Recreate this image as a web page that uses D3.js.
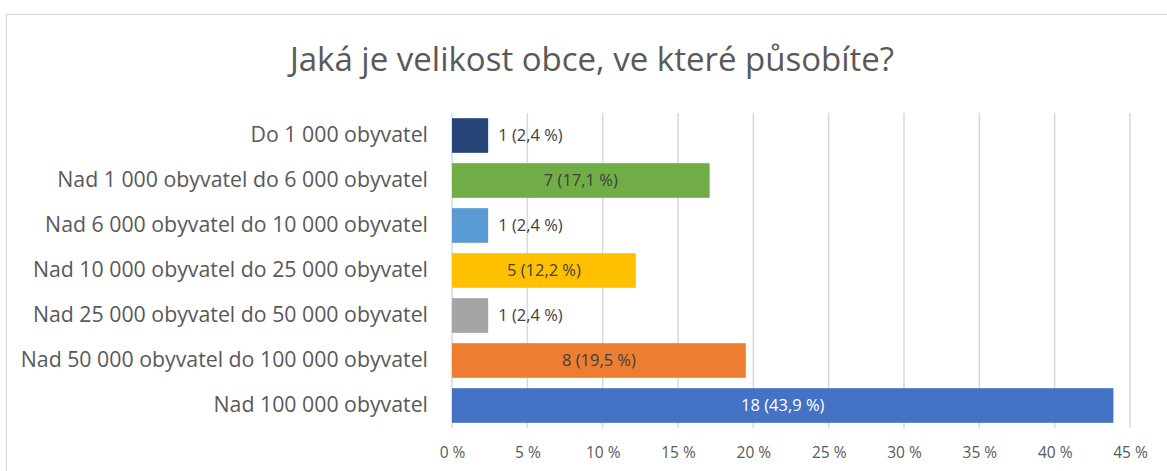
<!DOCTYPE html>
<html lang="cs">
<head>
<meta charset="utf-8">
<script src="https://d3js.org/d3.v7.min.js"></script>
<style>
  body { margin: 0; background: #fff; }
  svg text { font-family: "Open Sans", sans-serif; }
</style>
</head>
<body>
<div id="chart"></div>
<script>
"use strict"
// data
var kategorie = [
  "Do 1 000 obyvatel",
  "Nad 1 000 obyvatel do 6 000 obyvatel",
  "Nad 6 000 obyvatel do 10 000 obyvatel",
  "Nad 10 000 obyvatel do 25 000 obyvatel",
  "Nad 25 000 obyvatel do 50 000 obyvatel",
  "Nad 50 000 obyvatel do 100 000 obyvatel",
  "Nad 100 000 obyvatel"
];
var pocty = [1, 7, 1, 5, 1, 8, 18];
var procenta = [2.4, 17.1, 2.4, 12.2, 2.4, 19.5, 43.9];
var barvy = ["#264478", "#70AD47", "#5B9BD5", "#FFC000", "#A5A5A5", "#ED7D31", "#4472C4"];
var osaTicky = [0, 5, 10, 15, 20, 25, 30, 35, 40, 45];
var titulek = "Jaká je velikost obce, ve které působíte?";

var sirka = 1167, vyska = 471;
var margin = {top: 113, right: 37, bottom: 43, left: 452};
var w = sirka - margin.left - margin.right,
    h = vyska - margin.top - margin.bottom;

var svg = d3.select("#chart").append("svg")
  .attr("width", sirka).attr("height", vyska);

// ramecek
svg.append("rect")
  .attr("x", 6.5).attr("y", 14.5)
  .attr("width", sirka + 20).attr("height", vyska + 20)
  .attr("fill", "none").attr("stroke", "#d9d9d9").attr("stroke-width", 1.2);

svg.append("text")
  .attr("x", 592).attr("y", 71)
  .attr("text-anchor", "middle")
  .attr("fill", "#595959")
  .style("font-size", "33px")
  .text(titulek);

var g = svg.append("g").attr("transform", "translate(" + margin.left + "," + margin.top + ")");

var x = d3.scaleLinear().domain([0, 45]).range([0, w]);
var y = d3.scaleBand().domain(kategorie).range([0, h]).paddingInner(0.23).paddingOuter(0.115);

// mrizka
g.selectAll("line.grid")
  .data(osaTicky)
  .enter().append("line")
  .attr("class", "grid")
  .attr("x1", d => x(d)).attr("x2", d => x(d))
  .attr("y1", 0).attr("y2", h)
  .attr("stroke", "#d9d9d9").attr("stroke-width", 1.5);

// osa x
var osaX = g.append("g")
  .attr("transform", "translate(0," + h + ")")
  .call(d3.axisBottom(x).tickValues(osaTicky).tickSize(0).tickPadding(19).tickFormat(d => d + " %"));
osaX.select(".domain").remove();
osaX.selectAll("text").attr("fill", "#595959").style("font-size", "15.5px");

// osa y
var osaY = g.append("g")
  .call(d3.axisLeft(y).tickSize(0).tickPadding(24));
osaY.select(".domain").remove();
osaY.selectAll("text").attr("fill", "#595959").style("font-size", "21.3px");

// sloupce
var data = kategorie.map((k, i) => ({k: k, n: pocty[i], p: procenta[i], c: barvy[i]}));
g.selectAll("rect.bar")
  .data(data)
  .enter().append("rect")
  .attr("class", "bar")
  .attr("x", 0)
  .attr("y", d => y(d.k))
  .attr("width", d => x(d.p))
  .attr("height", y.bandwidth())
  .attr("fill", d => d.c);

// popisky
g.selectAll("text.lbl")
  .data(data)
  .enter().append("text")
  .attr("class", "lbl")
  .attr("x", d => d.p < 5 ? x(d.p) + 10 : x(d.p) / 2)
  .attr("y", d => y(d.k) + y.bandwidth() / 2)
  .attr("dy", "0.35em")
  .attr("text-anchor", d => d.p < 5 ? "start" : "middle")
  .attr("fill", (d, i) => i === 6 ? "#ffffff" : "#404040")
  .style("font-size", "16.5px")
  .text(d => d.n + " (" + String(d.p).replace(".", ",") + " %)");
</script>
</body>
</html>
